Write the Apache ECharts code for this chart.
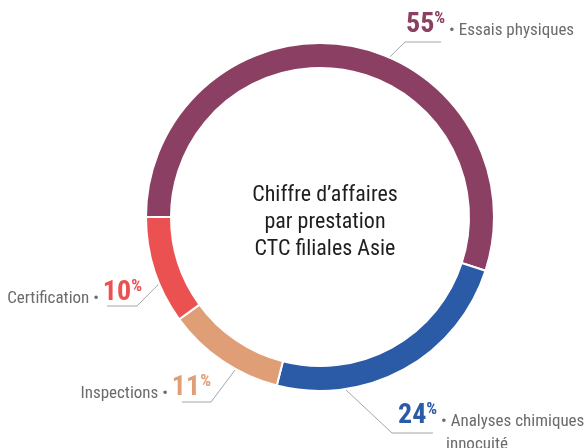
<!DOCTYPE html>
<html><head><meta charset="utf-8">
<script src="https://cdn.jsdelivr.net/npm/echarts@6/dist/echarts.min.js"></script>
<style>html,body{margin:0;padding:0;background:#fff}#c{width:587px;height:448px}</style>
</head><body><div id="c"></div>
<script>
const categories = ['Essais physiques', 'Analyses chimiques\ninnocuité', 'Inspections', 'Certification'];
const values = [55, 24, 11, 10];
const colors = ['#8B3F62', '#2B5BA7', '#E09E76', '#EC5151'];
const centerTitle = 'Chiffre d’affaires\npar prestation\nCTC filiales Asie';

const FONT = "'Roboto Condensed','Liberation Sans Narrow','DejaVu Sans Condensed','Arial Narrow',Roboto,sans-serif";
const CX = 320, CY = 217, R0 = 149, R1 = 174;
// leader placement: angle where the leader leaves the ring (deg, CCW from +x), elbow, end, text anchor
const labelPlacement = [
  { ang: 66.5,   elbow: [405, 42],  end: [441, 42],  x: 406, y: 10,  align: 'left' },
  { ang: -81.7,  elbow: [392, 433], end: [433, 433], x: 398, y: 401, align: 'left' },
  { ang: -119,   elbow: [211, 402], end: [182, 402], x: 211, y: 373, align: 'right' },
  { ang: -157.5, elbow: [137, 306], end: [107, 306], x: 142, y: 278, align: 'right' }
];

const rich = {
  n: { fontFamily: FONT, fontSize: 17, color: '#6b6b6b', lineHeight: 30, verticalAlign: 'bottom', padding: [0, 0, 1, 0] },
  n2: { fontFamily: FONT, fontSize: 17, color: '#6b6b6b', lineHeight: 22, verticalAlign: 'bottom' },
  sp: { width: 48, lineHeight: 22 }
};
colors.forEach((c, i) => {
  rich['p' + i] = { fontFamily: FONT, fontSize: 28, fontWeight: 'bold', color: c, lineHeight: 30 };
  rich['s' + i] = { fontFamily: FONT, fontSize: 17, fontWeight: 'bold', color: c, lineHeight: 15, verticalAlign: 'top' };
});

function fmt(p) {
  const i = p.dataIndex;
  const parts = p.name.split('\n');
  const pct = '{p' + i + '|' + p.value + '}{s' + i + '|%}';
  if (labelPlacement[i].align === 'left') {
    let s = pct + '{n| • ' + parts[0] + '}';
    for (let k = 1; k < parts.length; k++) s += '\n{sp|}{n2|' + parts[k] + '}';
    return s;
  }
  return '{n|' + parts[0] + ' • }' + pct;
}

const chart = echarts.init(document.getElementById('c'), null, { renderer: 'canvas' });
chart.setOption({
  animation: false,
  backgroundColor: '#ffffff',
  title: {
    text: centerTitle, left: CX, top: 177, textAlign: 'center',
    textStyle: { fontFamily: FONT, fontSize: 22, fontWeight: 'normal', color: '#1e1e1e', lineHeight: 27 }
  },
  series: [{
    type: 'pie',
    center: [CX, CY],
    radius: [R0, R1],
    startAngle: 180,
    clockwise: true,
    silent: true,
    avoidLabelOverlap: false,
    itemStyle: { borderColor: '#ffffff', borderWidth: 2 },
    label: { show: true, position: 'outside', formatter: fmt, rich: rich },
    labelLine: { show: true, lineStyle: { color: '#a6a6a6', width: 1 } },
    labelLayout: function (params) {
      const c = labelPlacement[params.dataIndex];
      const a = c.ang * Math.PI / 180;
      const start = [CX + R1 * Math.cos(a), CY - R1 * Math.sin(a)];
      return {
        x: c.x, y: c.y, align: c.align, verticalAlign: 'top',
        labelLinePoints: [start, c.elbow, c.end]
      };
    },
    data: categories.map((name, i) => ({ name: name, value: values[i], itemStyle: { color: colors[i] } }))
  }]
});
</script></body></html>
